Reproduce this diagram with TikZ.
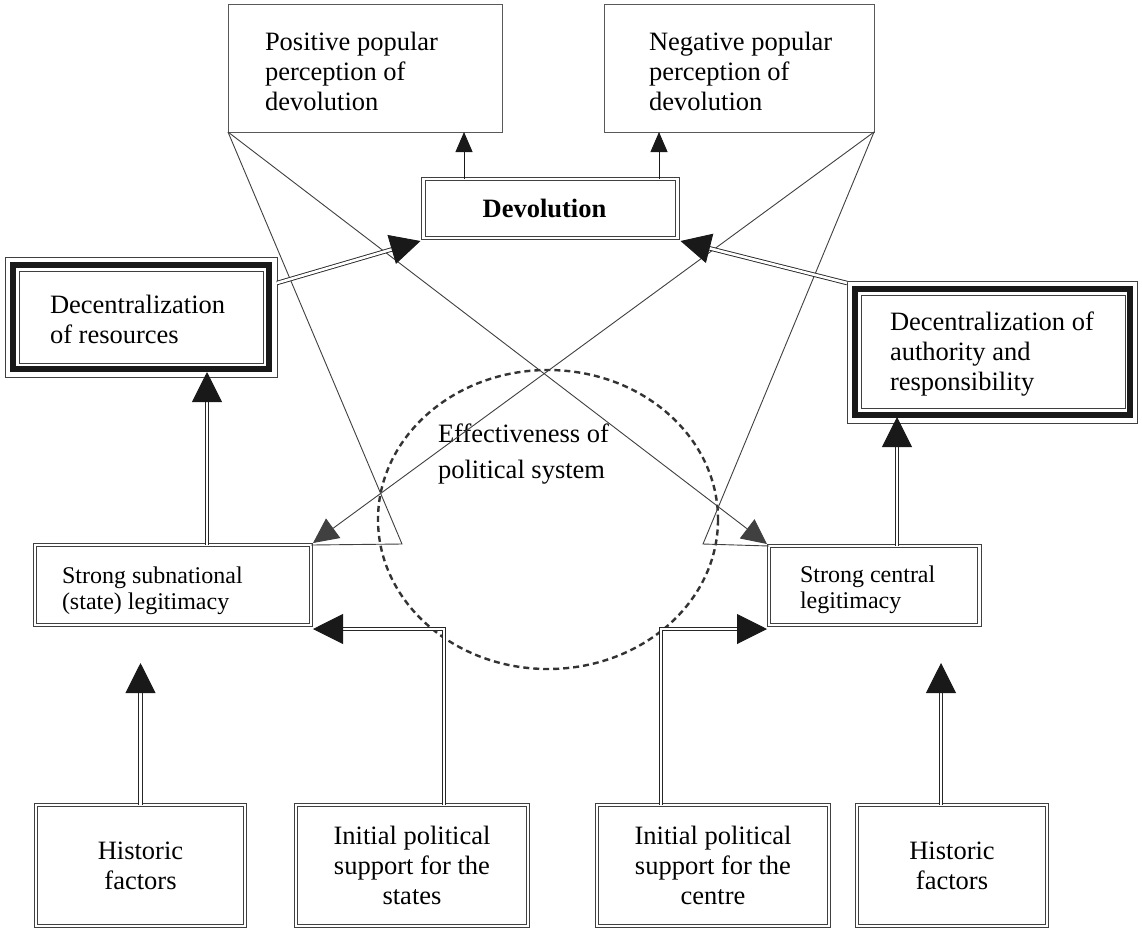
\documentclass[tikz,border=0pt]{standalone}
\usepackage{fontspec}
\setmainfont{Liberation Serif}
\usetikzlibrary{arrows.meta,calc}
\newcommand\bigf{\fontsize{26.5}{30}\selectfont}
\newcommand\midf{\fontsize{24}{25.5}\selectfont}
\newcommand\effectf{\fontsize{26.5}{36}\selectfont}
\tikzset{
  sbox/.style={draw=black!65, line width=1pt, inner sep=0pt, outer sep=0pt},
  dbox/.style={draw=black!75, line width=0.9pt, double=white, double distance=2.4pt, inner sep=0pt, outer sep=0pt},
  thickbox/.style={draw=black!90, line width=6.5pt, inner sep=0pt, outer sep=0pt},
  thinrect/.style={draw=black!75, line width=0.9pt},
  txt/.style={inner sep=0pt, outer sep=0pt, align=left, font=\bigf, anchor=north west},
  midtxt/.style={txt, font=\midf},
  dbl/.style={draw=black!85, line width=0.9pt, double=white, double distance=2.6pt},
  bigtip/.style={draw=black!90, line width=0.9pt, -{Triangle[length=30pt,width=30pt]}},
  smalltip/.style={draw=black!90, line width=0.9pt, -{Triangle[length=20pt,width=17pt]}},
  thinl/.style={draw=black!75, line width=0.9pt},
  midtip/.style={-{Triangle[length=25pt,width=24pt]}},
  effdash/.style={draw=black!80, line width=2.4pt, dash pattern=on 6pt off 4pt},
}
\newcommand\dblink[2]{\draw[dbl, shorten >=26pt] #1 -- #2; \draw[bigtip] ($#2!20pt!#1$) -- #2;}
\begin{document}
\begin{tikzpicture}[x=1pt,y=-1pt]
\fill[white] (0,0) rectangle (1142,930);
\useasboundingbox (0,0) rectangle (1142,930);

% top boxes
\node[sbox, minimum width=274pt, minimum height=128pt, anchor=north west] (pos) at (228,4) {};
\node[txt] (pos-t) at (265,32) {Positive popular\\perception of\\devolution};
\node[sbox, minimum width=270pt, minimum height=128pt, anchor=north west] (neg) at (604,4) {};
\node[txt] (neg-t) at (649,32) {Negative popular\\perception of\\devolution};

% devolution
\node[dbox, minimum width=254pt, minimum height=59pt, font=\bigf\bfseries] (dev) at (550.5,208.5) {Devolution\hspace*{12pt}};

% decentralization boxes
\node[thickbox, minimum width=256pt, minimum height=104pt, anchor=north west] (decres) at (13,265) {};
\draw[thinrect] ([shift={(-8,-8)}]decres.north west) rectangle ([shift={(8,8)}]decres.south east);
\draw[thinrect] ([shift={(6,6)}]decres.north west) rectangle ([shift={(-6,-6)}]decres.south east);
\node[txt] (decres-t) at (50,295) {Decentralization\\of resources};

\node[thickbox, minimum width=275pt, minimum height=126pt, anchor=north west] (decauth) at (855,289) {};
\draw[thinrect] ([shift={(-8,-8)}]decauth.north west) rectangle ([shift={(7,8)}]decauth.south east);
\draw[thinrect] ([shift={(6,6)}]decauth.north west) rectangle ([shift={(-5,-7)}]decauth.south east);
\node[txt] (decauth-t) at (890,312) {Decentralization of\\authority and\\responsibility};

% legitimacy boxes
\node[dbox, minimum width=276pt, minimum height=80pt, anchor=north west] (sub) at (35,545) {};
\node[midtxt] (sub-t) at (62,567) {Strong subnational\\(state) legitimacy};
\node[dbox, minimum width=210.5pt, minimum height=79pt, anchor=north west] (cen) at (769,546) {};
\node[midtxt] (cen-t) at (800,566) {Strong central\\legitimacy};

% bottom boxes
\node[dbox, minimum width=209pt, minimum height=121pt, anchor=north west, font=\bigf, align=center] (hist1) at (36,805) {Historic\\factors};
\node[dbox, minimum width=232pt, minimum height=121pt, anchor=north west, font=\bigf, align=center] (states) at (296,805) {Initial political\\support for the\\states};
\node[dbox, minimum width=232pt, minimum height=121pt, anchor=north west, font=\bigf, align=center] (centre) at (597,805) {Initial political\\support for the\\centre};
\node[dbox, minimum width=190pt, minimum height=121pt, anchor=north west, font=\bigf, align=center] (hist2) at (857,805) {Historic\\factors};

% effectiveness
\draw[effdash] (548,519.5) ellipse [x radius=170, y radius=149.5];
\node[txt, font=\effectf] (eff) at (438,424) {Effectiveness of\\political system};

% thin crossing connectors
\coordinate (tl) at (402,544);
\coordinate (tr) at (703,544);
\draw[thinl] (pos.south west) -- (tl) -- (sub.north east);
\draw[thinl] (neg.south east) -- (tr) -- (cen.north west);
\draw[thinl, midtip] (pos.south west) -- ([shift={(-2,-2)}]cen.north west);
\draw[thinl, midtip] (neg.south east) -- ([shift={(2,-2)}]sub.north east);

% devolution to perceptions
\draw[smalltip] ([xshift=40.5pt]dev.north west) -- ([xshift=40.5pt]dev.north west |- pos.south);
\draw[smalltip] ([xshift=-18.5pt]dev.north east) -- ([xshift=-18.5pt]dev.north east |- neg.south);

% decentralization to devolution
\coordinate (a1) at ([shift={(8,18)}]decres.north east);
\coordinate (a1t) at ([shift={(-3,3)}]dev.south west);
\dblink{(a1)}{(a1t)}
\coordinate (b1) at ([shift={(-8,-6)}]decauth.north west);
\coordinate (b1t) at ([shift={(3,3)}]dev.south east);
\dblink{(b1)}{(b1t)}

% legitimacy to decentralization
\coordinate (d1) at ([xshift=34pt]sub.north);
\coordinate (d1t) at ($(d1 |- decres.south)+(0,3)$);
\dblink{(d1)}{(d1t)}
\coordinate (e1) at ([xshift=22.75pt]cen.north);
\coordinate (e1t) at ($(e1 |- decauth.south)+(0,2)$);
\dblink{(e1)}{(e1t)}

% bottom to legitimacy
\coordinate (h1t) at ($(hist1.north |- sub.south)+(0,38)$);
\dblink{(hist1.north)}{(h1t)}
\coordinate (h2) at ([xshift=-11pt]hist2.north);
\coordinate (h2t) at ($(h2 |- cen.south)+(0,38)$);
\dblink{(h2)}{(h2t)}

\coordinate (s1) at ([xshift=32pt]states.north);
\coordinate (s2) at ([shift={(2,4)}]sub.south east);
\draw[dbl, shorten >=26pt] (s1) |- (s2);
\draw[bigtip] ($(s2)+(20,0)$) -- (s2);
\coordinate (c1) at ([xshift=-52pt]centre.north);
\coordinate (c2) at ([shift={(-2,4)}]cen.south west);
\draw[dbl, shorten >=26pt] (c1) |- (c2);
\draw[bigtip] ($(c2)+(-20,0)$) -- (c2);
\end{tikzpicture}
\end{document}
